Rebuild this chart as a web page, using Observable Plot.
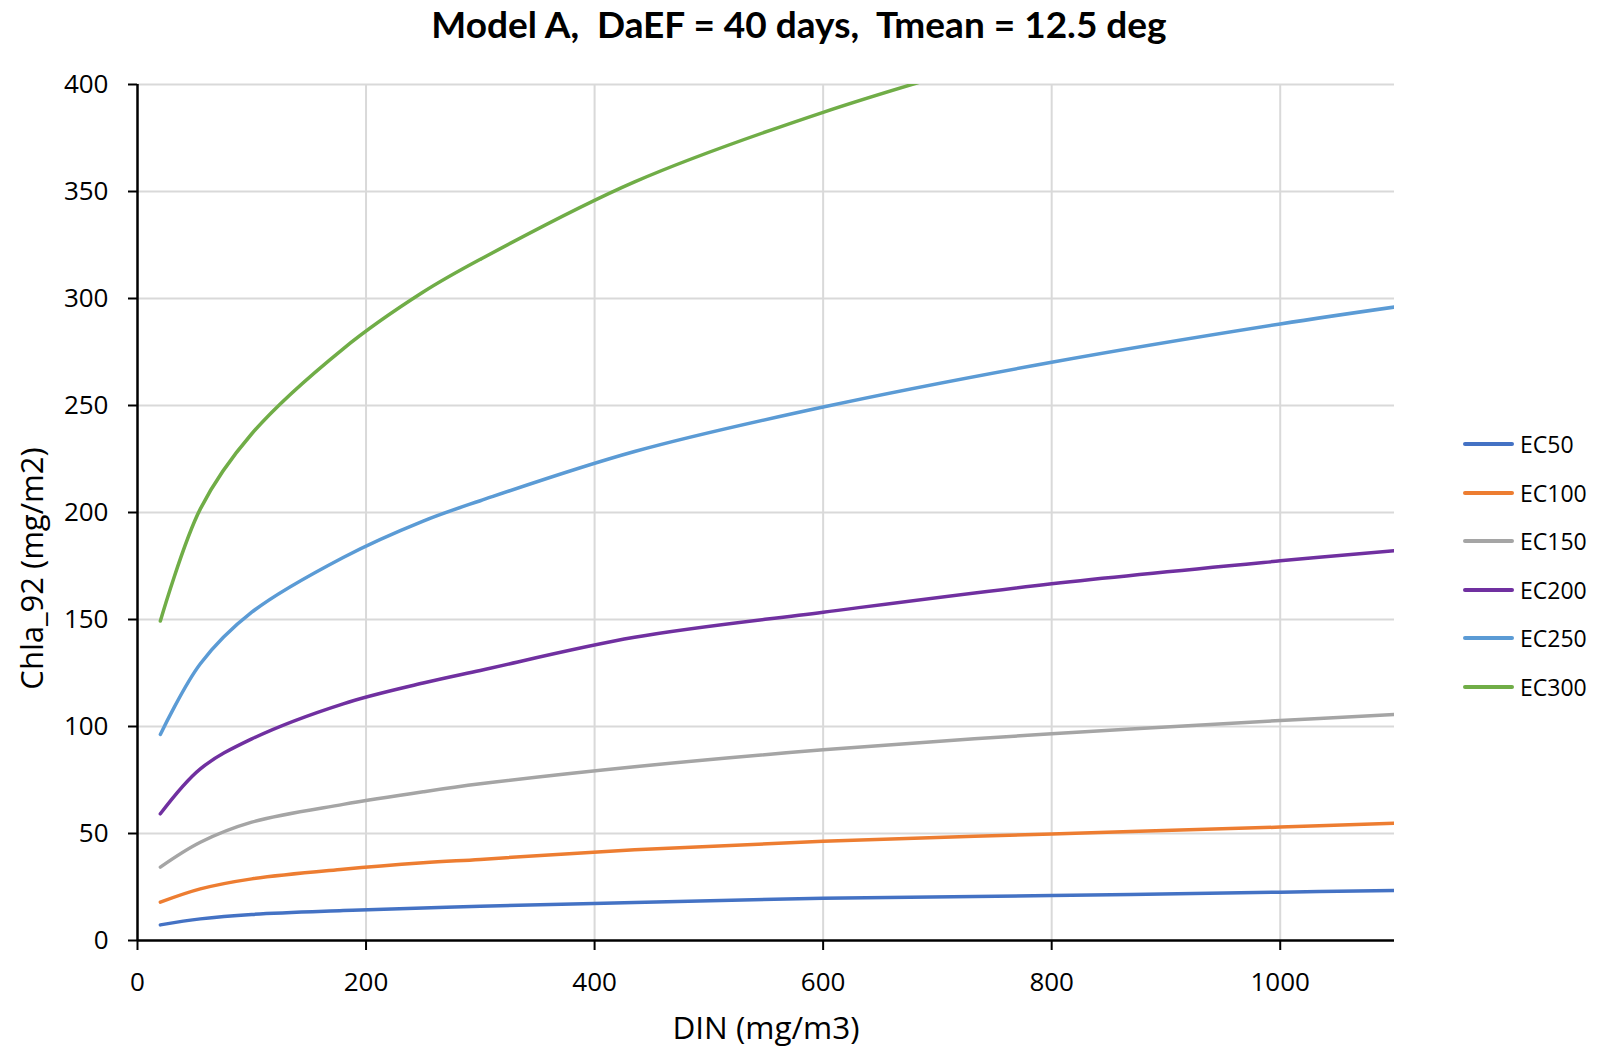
<!DOCTYPE html>
<html>
<head>
<meta charset="utf-8">
<script src="https://cdn.jsdelivr.net/npm/d3@7"></script>
<script src="https://cdn.jsdelivr.net/npm/@observablehq/plot@0.6"></script>
<style>
  html, body { margin: 0; padding: 0; background: #fff; overflow: hidden; }
  #wrap { position: relative; width: 1598px; height: 1050px; color: #000; font-family: "Open Sans", sans-serif; }
  #title { position: absolute; left: 0; top: 2px; width: 1598px; text-align: center; font-family: Lato, sans-serif;
           font-weight: 700; font-size: 37px; line-height: 44px; white-space: pre; }
  #chart { position: absolute; left: 0; top: 60px; }
  #legend { position: absolute; left: 1463px; top: 420px; }
  .row { display: flex; align-items: center; height: 48.5px; white-space: nowrap; font-size: 23px; }
  .row svg { margin-right: 6px; }
</style>
</head>
<body>
<div id="wrap">
  <div id="title">Model A,  DaEF = 40 days,  Tmean = 12.5 deg</div>
  <div id="chart"></div>
  <div id="legend"></div>
</div>
<script>
// DIN concentrations (mg/m3) at which Chla_92 was evaluated
const din = [20, 55, 100, 180, 250, 300, 435, 600, 800, 1000, 1100];

// Chla_92 (mg/m2) for each EC level
const ec50  = [7.3, 10.1, 12.2, 14.0, 15.2, 16.0, 17.8, 19.8, 21.0, 22.6, 23.4];
const ec100 = [17.9, 24.1, 28.8, 33.3, 36.3, 37.9, 42.4, 46.4, 49.8, 53.0, 54.8];
const ec150 = [34.3, 45.9, 55.3, 63.6, 69.5, 73.2, 81.2, 89.1, 96.6, 102.8, 105.6];
const ec200 = [59.2, 80.2, 94.2, 110.6, 120.3, 126.2, 141.7, 153.4, 166.7, 177.4, 182.2];
const ec250 = [96.3, 129.3, 153.4, 179.0, 196.0, 205.5, 228.5, 249.3, 270.2, 288.1, 296.0];
const ec300 = [149.3, 201.7, 236.8, 276.5, 303.0, 318.3, 354.5, 387.0, 419.0, null, null];

const seriesNames = ["EC50", "EC100", "EC150", "EC200", "EC250", "EC300"];
const seriesValues = [ec50, ec100, ec150, ec200, ec250, ec300];
const seriesColors = ["#4472C4", "#ED7D31", "#A5A5A5", "#7030A0", "#5B9BD5", "#70AD47"];

const xTicks = [0, 200, 400, 600, 800, 1000];
const yTicks = [0, 50, 100, 150, 200, 250, 300, 350, 400];

// long-format table for the line mark
const rows = [];
seriesNames.forEach((name, i) => {
  seriesValues[i].forEach((v, j) => {
    if (v != null) rows.push({ series: name, din: din[j], chla: v });
  });
});

const chart = Plot.plot({
  width: 1598,
  height: 990,
  marginTop: 24,
  marginBottom: 110,
  marginLeft: 137,
  marginRight: 204,
  style: { fontFamily: "'Open Sans', sans-serif", color: "#000", background: "#fff" },
  x: { domain: [0, 1100] },
  y: { domain: [0, 400] },
  color: { domain: seriesNames, range: seriesColors },
  marks: [
    Plot.gridX(xTicks.filter(d => d > 0), { stroke: "#d9d9d9", strokeOpacity: 1, strokeWidth: 2 }),
    Plot.gridY(yTicks.filter(d => d > 0), { stroke: "#d9d9d9", strokeOpacity: 1, strokeWidth: 2 }),
    Plot.axisX(xTicks, { tickSize: 10, tickPadding: 22, fontSize: 26, stroke: "#000", strokeWidth: 2,
                         tickFormat: d => String(d), label: null }),
    Plot.axisY(yTicks, { tickSize: 9, tickPadding: 20, fontSize: 26, stroke: "#000", strokeWidth: 2,
                         tickFormat: d => String(d), label: null }),
    Plot.ruleX([0], { stroke: "#000", strokeWidth: 2.5 }),
    Plot.ruleY([0], { stroke: "#000", strokeWidth: 2.5 }),
    Plot.line(rows, {
      x: "din", y: "chla", z: "series", stroke: "series",
      curve: "catmull-rom", strokeWidth: 3.5, clip: true
    }),
    Plot.text(["DIN (mg/m3)"], { frameAnchor: "bottom", textAnchor: "middle", dy: 98, fontSize: 31.5, fill: "#000" }),
    Plot.text(["Chla_92 (mg/m2)"], { frameAnchor: "left", textAnchor: "middle", dx: -104, dy: 56, rotate: -90,
                                      fontSize: 31, fill: "#000" })
  ]
});
document.getElementById("chart").appendChild(chart);

// legend: short line swatch followed by the series name
const legend = document.getElementById("legend");
seriesNames.forEach((name, i) => {
  const row = document.createElement("div");
  row.className = "row";
  row.innerHTML = `<svg width="51" height="6"><line x1="2" x2="49" y1="3" y2="3" stroke="${seriesColors[i]}" stroke-width="4" stroke-linecap="round"/></svg><span>${name}</span>`;
  legend.appendChild(row);
});
</script>
</body>
</html>
